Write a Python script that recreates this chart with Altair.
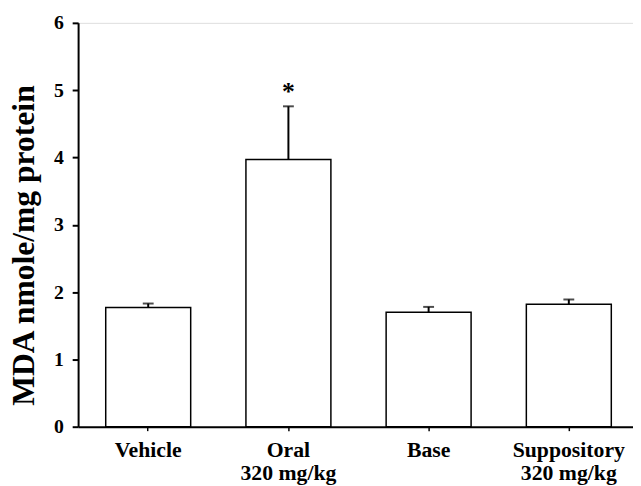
import altair as alt
import pandas as pd

categories = ["Vehicle", "Oral|320 mg/kg", "Base", "Suppository|320 mg/kg"]
means = [1.77, 3.97, 1.70, 1.82]
upper = [1.83, 4.76, 1.78, 1.89]
marks = ["", "*", "", ""]
y_ticks = [0, 1, 2, 3, 4, 5, 6]

df = pd.DataFrame({"cat": categories, "mean": means, "upper": upper, "mark": marks})

FONT = "Liberation Serif"

xaxis = alt.Axis(labelAngle=0, labelExpr="split(datum.label, '|')",
                 labelFont=FONT, labelFontSize=22, labelFontWeight=700,
                 labelColor="black", labelLineHeight=23, labelPadding=9,
                 labelBaseline="top", tickSize=4, tickWidth=1.5,
                 tickColor="black", domainColor="black", domainWidth=2)
yaxis = alt.Axis(values=y_ticks, format="d", grid=False,
                 labelFont=FONT, labelFontSize=20, labelFontWeight=700,
                 labelColor="black", labelPadding=9,
                 tickSize=6, tickWidth=2, tickColor="black",
                 domainColor="black", domainWidth=2,
                 titleFont=FONT, titleFontSize=32, titleFontWeight=700,
                 titleColor="black",
                 titleX=-45, titleY=225, titleAngle=270,
                 titleAlign="center", titleBaseline="alphabetic")
xscale = alt.Scale(range=[0, 568], paddingInner=0.394, paddingOuter=0.197)
yscale = alt.Scale(domain=[0, 6], nice=False)

def X():
    return alt.X("cat:N", sort=categories, title=None, scale=xscale, axis=xaxis)

def Y(field):
    return alt.Y(field, title="MDA nmole/mg protein", scale=yscale, axis=yaxis)

base = alt.Chart(df)

bars = base.mark_bar(fill="white", stroke="black", strokeWidth=1.5).encode(
    x=X(), y=Y("mean:Q"))
rules = base.mark_rule(color="black", strokeWidth=2).encode(
    x=X(), y=Y("mean:Q"), y2="upper:Q")
caps = base.mark_tick(color="black", thickness=2, size=11, orient="horizontal").encode(
    x=X(), y=Y("upper:Q"))
star = base.mark_text(font=FONT, fontSize=26, fontWeight="bold", color="black",
                      baseline="alphabetic", dy=-6).encode(
    x=X(), y=Y("upper:Q"), text="mark:N")

chart = alt.layer(bars, rules, caps, star).properties(
    width=562, height=409,
    autosize=alt.AutoSizeParams(type="none"),
    padding={"left": 71, "top": 12, "right": 0, "bottom": 57},
).configure_view(strokeWidth=0).configure(background="white")

chart.save("out.html", embed_options={"renderer": "svg", "actions": False})
